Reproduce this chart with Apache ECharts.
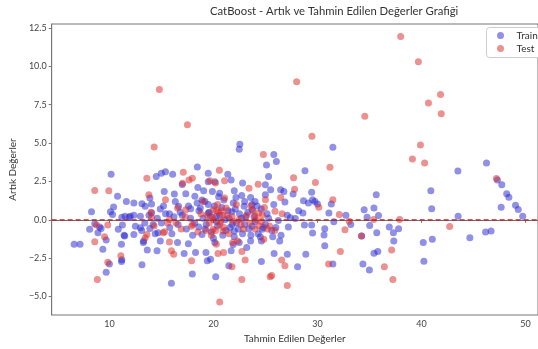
<!DOCTYPE html>
<html>
<head>
<meta charset="utf-8">
<script src="https://cdn.jsdelivr.net/npm/echarts@6/dist/echarts.min.js"></script>
<style>
  html, body { margin: 0; padding: 0; background: #fff; }
  #chart { width: 538px; height: 349px; }
</style>
</head>
<body>
<div id="chart"></div>
<script>
// Residuals vs. predicted values for the CatBoost model (train and test sets)
const trainPred = [
  22.54, 22.48, 18.45, 25.1, 25.8, 26.05, 31.48, 46.25, 43.5, 28.8,
  47.3, 47.72, 48.19, 48.4, 49.04, 49.3, 49.73, 47.66, 43.52, 44.65, 46.16, 46.69,
  40.9, 40.98, 41.04, 40.17, 40.23,
  35.65, 34.49, 35.43, 35.87, 34.77, 32.73, 33.2, 35.02, 36.9, 37.3, 37.8, 35.7, 34.24, 37.34, 35.43, 35.8, 34.37, 34.99,
  25.3, 25.5, 26.46, 26.77, 27.66, 29.44, 26.87, 28.66, 29.13, 29.53, 29.75, 30.0, 31.33, 28.19, 28.6, 27.1, 27.4, 26.24, 27.87, 31.1, 31.57,
  27.2, 28.75, 29.44, 29.53, 30.7, 30.63, 30.7, 26.37, 25.83, 27.1, 28.88, 31.48, 28.09, 25.7,
  10.16, 10.78, 11.63, 12.35, 8.28, 10.4, 10.1, 10.3, 11.19, 11.88, 12.35, 9.06, 8.59, 8.1, 9.2, 8.9, 10.85, 11.25, 11.47,
  6.61, 7.18, 9.69, 9.37, 11.16, 11.16, 10.0, 9.69, 13.13, 11.19, 13.13, 13.44, 11.41, 11.5, 12.0, 12.98, 12.5, 12.98, 12.35, 13.29, 15.96,
  14.5, 14.99, 15.39, 16.08, 15.27,
  19.06, 17.34, 16.24, 13.89, 14.05, 14.89, 16.33, 16.65, 18.21, 18.43, 17.81, 18.74, 14.05, 15.77,
  13.1, 13.89, 14.67, 14.89, 13.26, 13.64, 14.58, 16.55, 17.59, 17.18, 18.28, 17.97, 18.9, 18.59,
  19.5, 21.38, 21.7, 19.5, 20.13, 24.99, 19.9, 20.6, 22.0, 22.16, 22.72, 23.57, 24.99, 19.18, 21.78, 22.95, 23.73, 25.15, 19.5, 20.28,
  22.0, 23.73, 24.68, 22.48, 20.13, 23.57, 24.61, 19.28, 19.72, 19.41, 21.7, 24.61, 21.48, 20.22,
  19.0, 19.3, 19.6, 19.8, 20.1, 20.4, 20.6, 20.9, 21.1, 21.4, 21.6, 21.9, 22.2, 22.5, 22.8, 23.1, 23.4, 23.7, 24.0, 24.3,
  24.6, 25.0, 25.3, 25.6, 18.6, 18.2, 17.8, 17.4, 17.0, 16.6, 16.2, 15.8, 15.4, 15.0, 14.6, 14.2, 13.8, 13.4,
  20.0, 21.0, 22.0, 23.0, 19.5, 24.5, 26.0, 26.5, 25.8,
  17.6, 18.0, 18.9, 19.2, 19.7, 20.3, 20.8, 21.2, 21.5, 21.8, 22.1, 22.4, 22.7, 23.0, 23.3, 23.6, 23.9, 24.2, 24.8,
  16.0, 16.8, 15.2, 14.4, 20.5, 21.9, 23.2, 18.5, 17.0, 22.8, 24.0
];
const trainResid = [
  4.92, 4.6, 3.44, 3.57, 4.26, 3.8, 4.73, 3.7, 3.18, 3.2,
  2.6, 2.28, 1.7, 1.48, 0.95, 0.67, 0.24, 0.82, 0.24, -1.16, -0.8, -0.73,
  1.89, 0.73, -1.27, -1.48, -2.69,
  1.63, 0.65, 0.77, 0.28, 0.17, 0.3, -0.3, -0.37, -0.47, -0.84, -0.58, -0.84, -1.05, -1.38, -2.17, -2.07, -2.88, -3.27,
  2.82, 1.96, 1.96, 1.85, 1.68, 1.79, 1.16, 1.25, 1.1, 1.31, 1.2, 1.03, 1.03, 0.6, 0.45, 0.3, 0.13, -0.04, 0.08, 0.45, -0.13,
  -0.47, -0.34, -0.34, -0.86, -0.58, -0.99, -1.68, -1.38, -2.19, -2.24, -2.24, -2.88, -3.05, -1.1,
  2.97, 1.53, 1.2, 1.1, 0.52, 0.84, 0.52, 0.34, 0.17, 0.17, 0.3, -0.47, -0.26, -0.62, -0.56, -0.84, -0.62, -0.34, -1.05,
  -1.59, -1.59, -1.31, -1.91, -1.59, -2.71, -2.88, -3.42, -2.92, -2.6, 1.05, 0.88, -1.01, 0.24, 0.24, 0.24, -0.41, -0.52, -0.95, -1.38, -4.13,
  2.82, 3.03, 3.14, 2.97, 1.85,
  1.89, 1.7, 1.68, 1.42, 1.03, 0.71, 1.2, 0.88, 1.53, 1.1, 0.73, 0.77, 0.45, 0.39,
  -0.69, -0.56, -0.84, -1.38, -1.48, -1.96, -2.02, -1.48, -1.55, -2.19, -2.13, -3.53, -0.95, -0.47,
  3.03, 2.97, 2.6, 2.49, 2.49, 2.28, 1.85, 1.74, 1.89, 1.46, 1.59, 1.46, 1.63, 1.2, 0.52, 0.88, 0.66, 0.39, 0.45, 0.24,
  -0.73, -0.41, -0.62, -1.48, -1.48, -1.38, -1.38, -2.13, -2.56, -2.67, -2.02, -2.71, -2.99, -3.7,
  0.1, -0.3, 0.5, -0.8, 0.9, -0.4, 0.3, -1.0, 0.0, 0.6, -0.5, 1.1, -0.2, 0.4, -0.9, 0.2, -0.6, 1.0, -0.1, -0.9,
  0.7, -0.3, 0.1, -0.7, 0.6, -0.2, 0.1, -0.6, 0.3, -0.3, 0.2, -0.5, 0.4, -0.2, 0.1, -0.3, 0.3, -0.2,
  -1.2, 1.3, -1.1, 1.2, 1.0, -1.1, -0.5, -1.0, 1.0,
  0.9, -1.0, 1.3, -0.6, 0.2, -0.1, 0.8, -0.7, 0.1, -0.3, 0.7, -0.6, 0.1, -0.3, 0.5, -1.0, 0.2, 0.9, -0.5,
  -0.9, 0.5, 0.9, -0.9, 1.5, -1.6, -1.8, 2.1, 2.3, 2.4, 1.2
];

const testPred = [
  14.8, 17.5, 14.3, 24.8, 17.1, 20.57, 38.0, 39.7, 28.0, 41.83, 40.67, 41.9, 34.55, 29.47, 39.9, 39.13, 40.3, 31.2,
  47.2, 42.71,
  35.4, 37.9, 33.05, 32.1, 32.64, 34.24, 37.13, 32.2, 36.43, 37.25,
  27.7, 29.8, 27.8, 26.46, 30.13, 31.48, 25.92, 26.6, 26.56, 26.87, 31.07, 25.6, 27.1, 25.0, 25.4, 25.9,
  8.59, 9.94, 8.75, 9.84, 9.53, 8.59, 11.1, 9.84, 8.84,
  13.6, 13.44, 15.17, 15.96, 16.18, 15.39, 13.6,
  17.03, 17.65, 17.97, 13.79, 16.55, 17.34, 14.05, 15.77,
  15.3, 15.77, 17.9, 17.9,
  21.07, 19.66, 24.3, 23.42, 21.07, 21.22, 20.75, 24.36, 23.99, 19.97, 22.48, 20.2,
  19.97, 20.91, 22.63, 21.85, 22.32, 20.28, 24.84, 20.44, 20.97, 22.74, 23.05, 21.78, 22.73, 25.45, 20.6,
  19.6, 19.9, 20.2, 20.5, 20.7, 21.0, 21.3, 20.4, 19.8, 23.8, 24.1, 24.4, 24.7, 23.5, 24.9, 22.9,
  18.0, 17.3, 16.9, 14.3, 14.0, 15.6, 21.8, 25.2, 18.8,
  19.4, 20.0, 20.6, 20.9, 21.5, 19.3, 20.3, 23.6, 24.0, 24.6, 23.2, 22.2, 18.5, 19.0, 16.4, 21.9
];
const testResid = [
  8.5, 6.2, 4.75, 4.25, 3.1, 3.23, 11.95, 10.3, 9.0, 8.17, 7.61, 6.92, 6.75, 5.44, 4.88, 3.96, 3.7, 3.42,
  2.7, -0.43,
  0.02, 0.02, -0.09, 0.34, -0.65, -1.05, -1.96, -2.06, -3.05, -3.89,
  2.75, 2.43, 2.0, 1.46, 0.82, 1.31, 0.56, 0.39, -2.62, -2.99, -2.88, -3.63, -4.28, 1.31, -0.4, -0.7,
  1.91, 1.89, -0.34, -0.34, -1.1, -1.42, -2.34, -2.77, -3.89,
  -0.95, -1.16, -0.84, -2.02, -2.24, 1.31, 2.71,
  2.39, 2.6, 2.71, 1.63, 0.77, 0.66, 0.13, 0.02,
  -0.77, -1.44, -2.67, -0.41,
  2.54, 2.54, 2.32, 2.06, 1.42, 0.77, 0.6, 0.45, 0.24, 0.66, 0.02, 2.4,
  -0.62, -0.73, -0.3, -1.48, -1.38, -1.59, -1.27, -2.19, -2.13, -2.07, -2.62, -3.05, -3.89, -3.7, -5.35,
  -0.2, 0.2, -0.7, 0.5, -0.1, -0.5, 0.3, 1.0, -1.0, 0.6, 0.0, -0.4, 0.3, -0.2, 0.8, -0.6,
  -0.3, 0.2, -0.6, -0.4, 0.5, -0.2, 0.2, -0.6, 0.4,
  0.3, 0.0, -0.3, 0.3, -0.9, -0.7, 0.6, 0.9, -0.6, -0.1, 0.3, 1.0, -0.8, 1.2, -0.2, -0.1
];

const seriesNames = ['Train', 'Test'];
const seriesColors = ['#2a2ad0', '#dc2a2a'];
const xTicks = [10, 20, 30, 40, 50];
const yTicks = [-5, -2.5, 0, 2.5, 5, 7.5, 10, 12.5];

const pairs = (xs, ys) => xs.map((x, i) => [x, ys[i]]);
const font = 'Lato, "Open Sans", sans-serif';

// Legend box, anchored at the upper right corner of the plot and running past the page edge
const legendGraphic = {
  type: 'group', left: 486, top: 27,
  children: [
    { type: 'rect', shape: { x: 0, y: 0, width: 70, height: 30, r: 3 },
      style: { fill: '#fff', stroke: '#ccc', lineWidth: 1 } }
  ].concat(seriesNames.flatMap((name, i) => [
    { type: 'circle', shape: { cx: 14, cy: 8 + i * 13, r: 3.5 },
      style: { fill: seriesColors[i], opacity: 0.52 } },
    { type: 'text', x: 30, y: 8 + i * 13,
      style: { text: name, fill: '#333', font: '10px ' + font, textVerticalAlign: 'middle' } }
  ]))
};

const chart = echarts.init(document.getElementById('chart'), null, { renderer: 'canvas' });
chart.setOption({
  animation: false,
  backgroundColor: '#fff',
  graphic: [
    { type: 'text', left: 210, top: 6,
      style: { text: 'CatBoost - Artık ve Tahmin Edilen Değerler Grafiği', fill: '#333', font: '11.3px ' + font } },
    legendGraphic
  ],
  grid: { left: 41, right: 0, top: 24, bottom: 31, show: true, borderColor: '#777', borderWidth: 1 },
  xAxis: {
    type: 'value', min: 4.45, max: 51.2,
    name: 'Tahmin Edilen Değerler', nameLocation: 'middle', nameGap: 19,
    nameTextStyle: { fontSize: 10, color: '#333', fontFamily: font },
    splitLine: { show: false },
    axisLine: { show: true, lineStyle: { color: '#777' } },
    axisTick: { show: true, length: 3, lineStyle: { color: '#777' }, customValues: xTicks },
    axisLabel: { fontSize: 9, color: '#444', margin: 5, fontFamily: font, customValues: xTicks }
  },
  yAxis: {
    type: 'value', min: -6.2, max: 12.76,
    name: 'Artık Değerler', nameLocation: 'middle', nameGap: 29,
    nameTextStyle: { fontSize: 10, color: '#333', fontFamily: font },
    splitLine: { show: false },
    axisLine: { show: true, lineStyle: { color: '#777' } },
    axisTick: { show: true, length: 3, lineStyle: { color: '#777' }, customValues: yTicks },
    axisLabel: {
      fontSize: 9, color: '#444', margin: 5, fontFamily: font, customValues: yTicks,
      formatter: v => v.toFixed(1).replace('-', '\u2212')
    }
  },
  series: [
    {
      name: seriesNames[0], type: 'scatter', symbolSize: 7,
      itemStyle: { color: seriesColors[0], opacity: 0.52 },
      data: pairs(trainPred, trainResid),
      markLine: {
        silent: true, symbol: 'none', label: { show: false },
        lineStyle: { color: '#b02a2a', type: [5, 3], width: 1.5 },
        data: [{ yAxis: 0 }]
      },
      z: 2
    },
    {
      name: seriesNames[1], type: 'scatter', symbolSize: 7,
      itemStyle: { color: seriesColors[1], opacity: 0.52 },
      data: pairs(testPred, testResid),
      z: 2
    }
  ]
});
</script>
</body>
</html>
